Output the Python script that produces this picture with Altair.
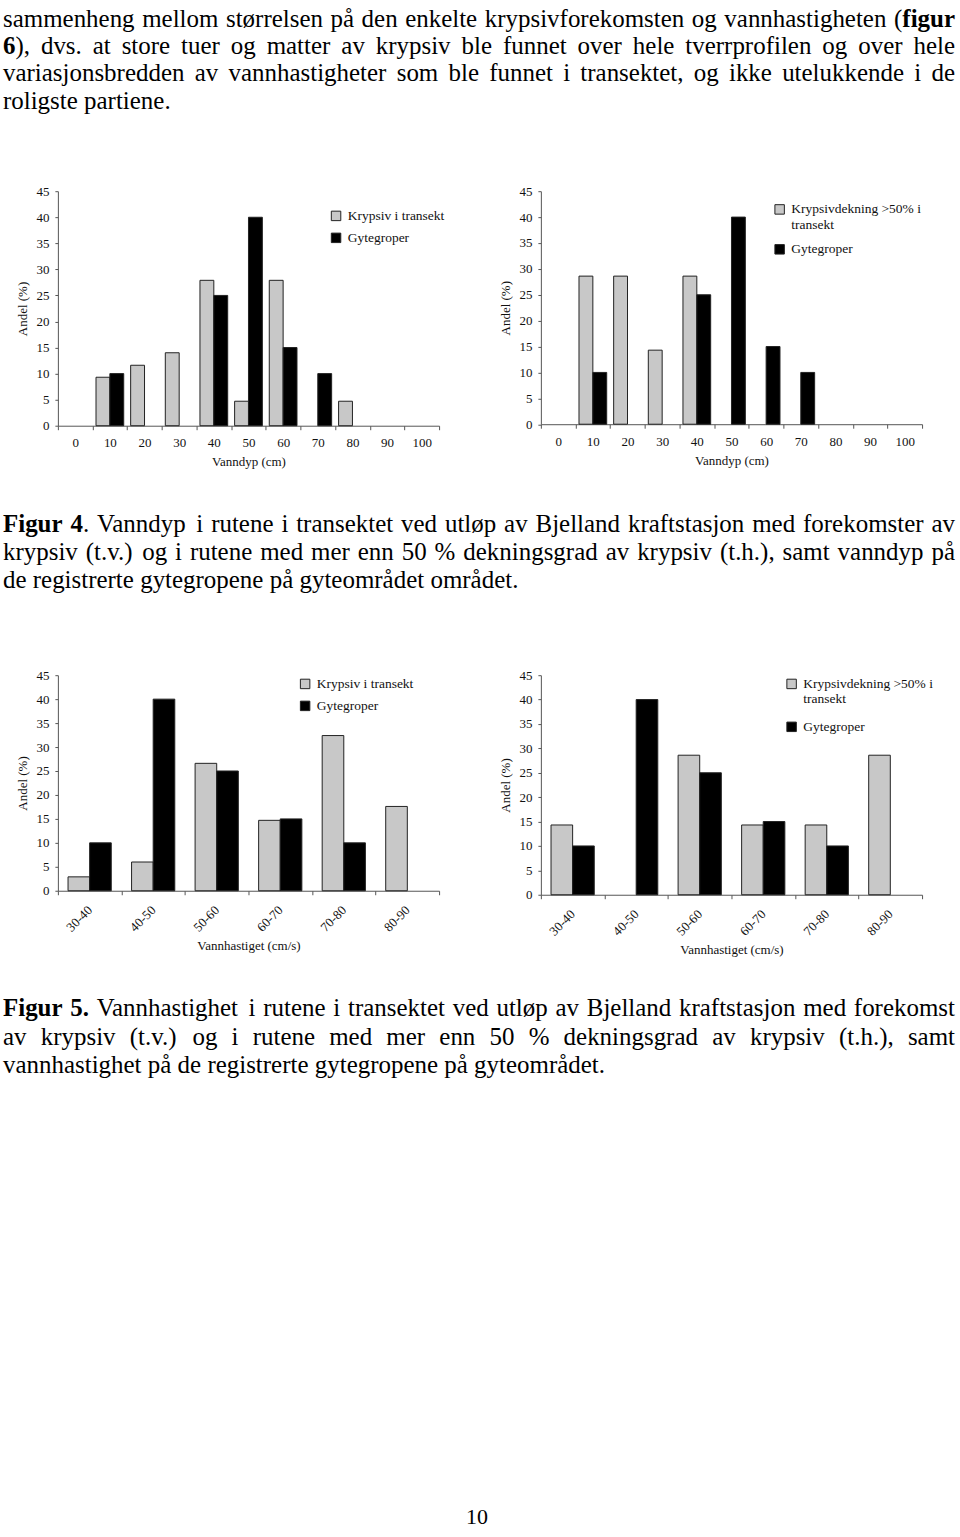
import altair as alt
import pandas as pd

# ---------------- data ----------------
depth_cats = ["0", "10", "20", "30", "40", "50", "60", "70", "80", "90", "100"]
krypsiv_depth = [0, 9.3, 11.6, 14.0, 27.9, 4.7, 27.9, 0, 4.7, 0, 0]
gyte_depth = [0, 10, 0, 0, 25, 40, 15, 10, 0, 0, 0]
krypsiv50_depth = [0, 28.6, 28.6, 14.3, 28.6, 0, 0, 0, 0, 0, 0]

speed_cats = ["30-40", "40-50", "50-60", "60-70", "70-80", "80-90"]
krypsiv_speed = [2.9, 6.0, 26.6, 14.7, 32.4, 17.6]
gyte_speed = [10, 40, 25, 15, 10, 0]
krypsiv50_speed = [14.3, 0, 28.6, 14.3, 14.3, 28.6]

series_a = "Krypsiv i transekt"
series_b = "Krypsivdekning >50% i transekt"
series_g = "Gytegroper"

# text (words between * * are bold)
para_lines = [
    "sammenheng mellom størrelsen på den enkelte krypsivforekomsten og vannhastigheten (*figur*",
    "*6*), dvs. at store tuer og matter av krypsiv ble funnet over hele tverrprofilen og over hele",
    "variasjonsbredden av vannhastigheter som ble funnet i transektet, og ikke utelukkende i de",
    "roligste partiene.",
]
fig4_lines = [
    "*Figur* *4*. Vanndyp i rutene i transektet ved utløp av Bjelland kraftstasjon med forekomster av",
    "krypsiv (t.v.) og i rutene med mer enn 50 % dekningsgrad av krypsiv (t.h.), samt vanndyp på",
    "de registrerte gytegropene på gyteområdet området.",
]
fig5_lines = [
    "*Figur* *5.* Vannhastighet i rutene i transektet ved utløp av Bjelland kraftstasjon med forekomst",
    "av krypsiv (t.v.) og i rutene med mer enn 50 % dekningsgrad av krypsiv (t.h.), samt",
    "vannhastighet på de registrerte gytegropene på gyteområdet.",
]
page_number = "10"

# ---------------- style ----------------
FONT = "Liberation Serif"
GREY = "#c8c8c8"
AXC = "#555555"
TXT = "#111111"
COL_LEFT = 57          # page x of the left column plot area
COL_W = 382
COL_GAP = 102
BODY = 25              # body text size
CAP = 25               # caption text size

# Times / Liberation Serif advance widths (per 1000 em)
REG = {" ": 250, "%": 833, "(": 333, ")": 333, ",": 250, "-": 333, ".": 250, "/": 278,
       ">": 564, ":": 278,
       "A": 722, "B": 667, "C": 667, "D": 722, "E": 611, "F": 556, "G": 722, "H": 722,
       "I": 333, "J": 389, "K": 722, "L": 611, "M": 889, "N": 722, "O": 722, "P": 556,
       "R": 667, "S": 556, "T": 611, "U": 722, "V": 722, "W": 944,
       "a": 444, "b": 500, "c": 444, "d": 500, "e": 444, "f": 333, "g": 500, "h": 500,
       "i": 278, "j": 278, "k": 500, "l": 278, "m": 778, "n": 500, "o": 500, "p": 500,
       "q": 500, "r": 333, "s": 389, "t": 278, "u": 500, "v": 500, "w": 722, "x": 500,
       "y": 500, "z": 444, "æ": 667, "ø": 500, "å": 444}
BOLD = {" ": 250, ".": 250, ",": 250, "(": 333, ")": 333, "F": 611, "f": 333, "i": 278,
        "g": 500, "u": 556, "r": 444}
for _d in "0123456789":
    REG[_d] = 500
    BOLD[_d] = 500


def seg_width(text, bold, size):
    table = BOLD if bold else REG
    return sum(table.get(c, 500) for c in text) * size / 1000.0


def parse_word(word):
    segs, cur, bold = [], "", False
    for ch in word:
        if ch == "*":
            if cur:
                segs.append((cur, bold))
                cur = ""
            bold = not bold
        else:
            cur += ch
    if cur:
        segs.append((cur, bold))
    return segs


def layout(lines, size, left, right, baselines):
    """Justified text layout (last line left aligned); returns rows of word segments."""
    rows = []
    for li, line in enumerate(lines):
        words = [parse_word(w) for w in line.split(" ")]
        widths = [sum(seg_width(t, b, size) for t, b in w) for w in words]
        last = li == len(lines) - 1
        gap = REG[" "] * size / 1000.0
        if not last and len(words) > 1:
            gap = max(gap * 0.6, (right - left - sum(widths)) / (len(words) - 1))
        x = left
        for w, wd in zip(words, widths):
            sx = x
            for t, b in w:
                rows.append({"text": t, "x": sx, "y": baselines[li], "bold": b})
                sx += seg_width(t, b, size)
            x += wd + gap
    return pd.DataFrame(rows)


def text_layers(df, size):
    base = alt.Chart(df).encode(
        x=alt.X("x:Q", scale=None, axis=None),
        y=alt.Y("y:Q", scale=None, axis=None),
        text="text:N",
    )
    normal = base.transform_filter("!datum.bold").mark_text(
        align="left", baseline="alphabetic", font=FONT, fontSize=size, color="#000000")
    bold = base.transform_filter("datum.bold").mark_text(
        align="left", baseline="alphabetic", font=FONT, fontSize=size, color="#000000",
        fontWeight="bold")
    return [normal, bold]


def blank(h):
    return alt.Chart(pd.DataFrame({"t": [""]})).mark_text().encode(
        text="t:N").properties(width=COL_W, height=h)


def bar_chart(cats, grey_vals, grey_name, black_vals, h, x_title, rotated,
              pad_outer, lx, ly, row_pad, two_line):
    df = pd.DataFrame({
        "cat": list(cats) * 2,
        "series": [grey_name] * len(cats) + [series_g] * len(cats),
        "value": list(grey_vals) + list(black_vals),
    })
    if rotated:
        xaxis = alt.Axis(tickBand="extent", labelAngle=-45, labelAlign="right",
                         labelBaseline="middle", tickSize=4, labelPadding=13,
                         titlePadding=5)
    else:
        xaxis = alt.Axis(tickBand="extent", labelAngle=0, tickSize=4, labelPadding=7,
                         titlePadding=6)
    legend_kw = dict(orient="none", legendX=lx, legendY=ly, symbolType="square",
                     symbolSize=90, symbolStrokeColor="#222222", symbolStrokeWidth=1,
                     labelFont=FONT, labelFontSize=13.5, labelOffset=5, rowPadding=row_pad,
                     padding=0, labelColor=TXT, labelLimit=400)
    if two_line:
        legend_kw["labelExpr"] = (
            "datum.label == '" + series_b + "' ? ['Krypsivdekning >50% i', 'transekt'] : datum.label")
    return alt.Chart(df).transform_filter("datum.value > 0").mark_bar(
        stroke="#222222", strokeWidth=1
    ).encode(
        x=alt.X("cat:N", sort=list(cats), title=x_title,
                scale=alt.Scale(domain=list(cats), paddingInner=0, paddingOuter=0),
                axis=xaxis),
        xOffset=alt.XOffset("series:N", sort=[grey_name, series_g],
                            scale=alt.Scale(domain=[grey_name, series_g],
                                            paddingInner=0, paddingOuter=pad_outer)),
        y=alt.Y("value:Q", title="Andel (%)",
                scale=alt.Scale(domain=[0, 45], nice=False),
                axis=alt.Axis(values=list(range(0, 50, 5)), grid=False, tickSize=3,
                              labelPadding=6, titlePadding=6)),
        color=alt.Color("series:N", title=None, sort=[grey_name, series_g],
                        scale=alt.Scale(domain=[grey_name, series_g],
                                        range=[GREY, "#000000"]),
                        legend=alt.Legend(**legend_kw)),
    ).properties(width=COL_W, height=h)


# ---------------- text cells ----------------
L = 2 - COL_LEFT
R = 956 - COL_LEFT

top_df = layout(para_lines, BODY, L, R, [24, 51.5, 79, 106.5])
edge = alt.Chart(pd.DataFrame({"a": [0]})).mark_rule(color="white").encode(
    x=alt.value(-COL_LEFT), x2=alt.value(960 - COL_LEFT), y=alt.value(0))
top_cell = alt.layer(edge, *text_layers(top_df, BODY)).properties(width=COL_W, height=189)

# caption 4 cell starts at page y 424
cap4_df = layout(fig4_lines, CAP, L, R, [107, 135, 163])
cap4_cell = alt.layer(*text_layers(cap4_df, CAP)).properties(width=COL_W, height=250)

# caption 5 cell starts at page y 894
cap5_df = layout(fig5_lines, CAP, L, R, [122, 150.5, 179])
pnum = alt.Chart(pd.DataFrame({"t": [page_number]})).mark_text(
    align="center", baseline="alphabetic", font=FONT, fontSize=22, color="#000000"
).encode(x=alt.value(477 - COL_LEFT), y=alt.value(631), text="t:N")
cap5_cell = alt.layer(*text_layers(cap5_df, CAP), pnum).properties(width=COL_W, height=643)

# ---------------- charts ----------------
c1 = bar_chart(depth_cats, krypsiv_depth, series_a, gyte_depth, 235, "Vanndyp (cm)",
               False, 0.25, 272, 18, 7, False)
c2 = bar_chart(depth_cats, krypsiv50_depth, series_b, gyte_depth, 233.5, "Vanndyp (cm)",
               False, 0.25, 232.5, 11.5, 10, True)
c3 = bar_chart(speed_cats, krypsiv_speed, series_a, gyte_speed, 216, "Vannhastiget (cm/s)",
               True, 0.47, 241, 2, 7, False)
c4 = bar_chart(speed_cats, krypsiv50_speed, series_b, gyte_speed, 220, "Vannhastiget (cm/s)",
               True, 0.47, 244.5, 2, 13, True)

page = alt.concat(
    top_cell, blank(189),
    c1, c2,
    cap4_cell, blank(250),
    c3, c4,
    cap5_cell, blank(643),
    columns=2,
    spacing={"row": 0, "column": COL_GAP},
    bounds="flush",
).resolve_scale(
    color="independent", xOffset="independent", x="independent", y="independent"
).resolve_legend(
    color="independent"
).properties(
    padding=0, background="white"
).configure_view(
    strokeWidth=0
).configure_axis(
    labelFont=FONT, labelFontSize=13, labelColor=TXT,
    titleFont=FONT, titleFontSize=13, titleFontWeight="normal", titleColor=TXT,
    domainColor=AXC, tickColor=AXC, domainWidth=1, tickWidth=1,
)

page.save("out.html", embed_options={"renderer": "svg", "actions": False})
